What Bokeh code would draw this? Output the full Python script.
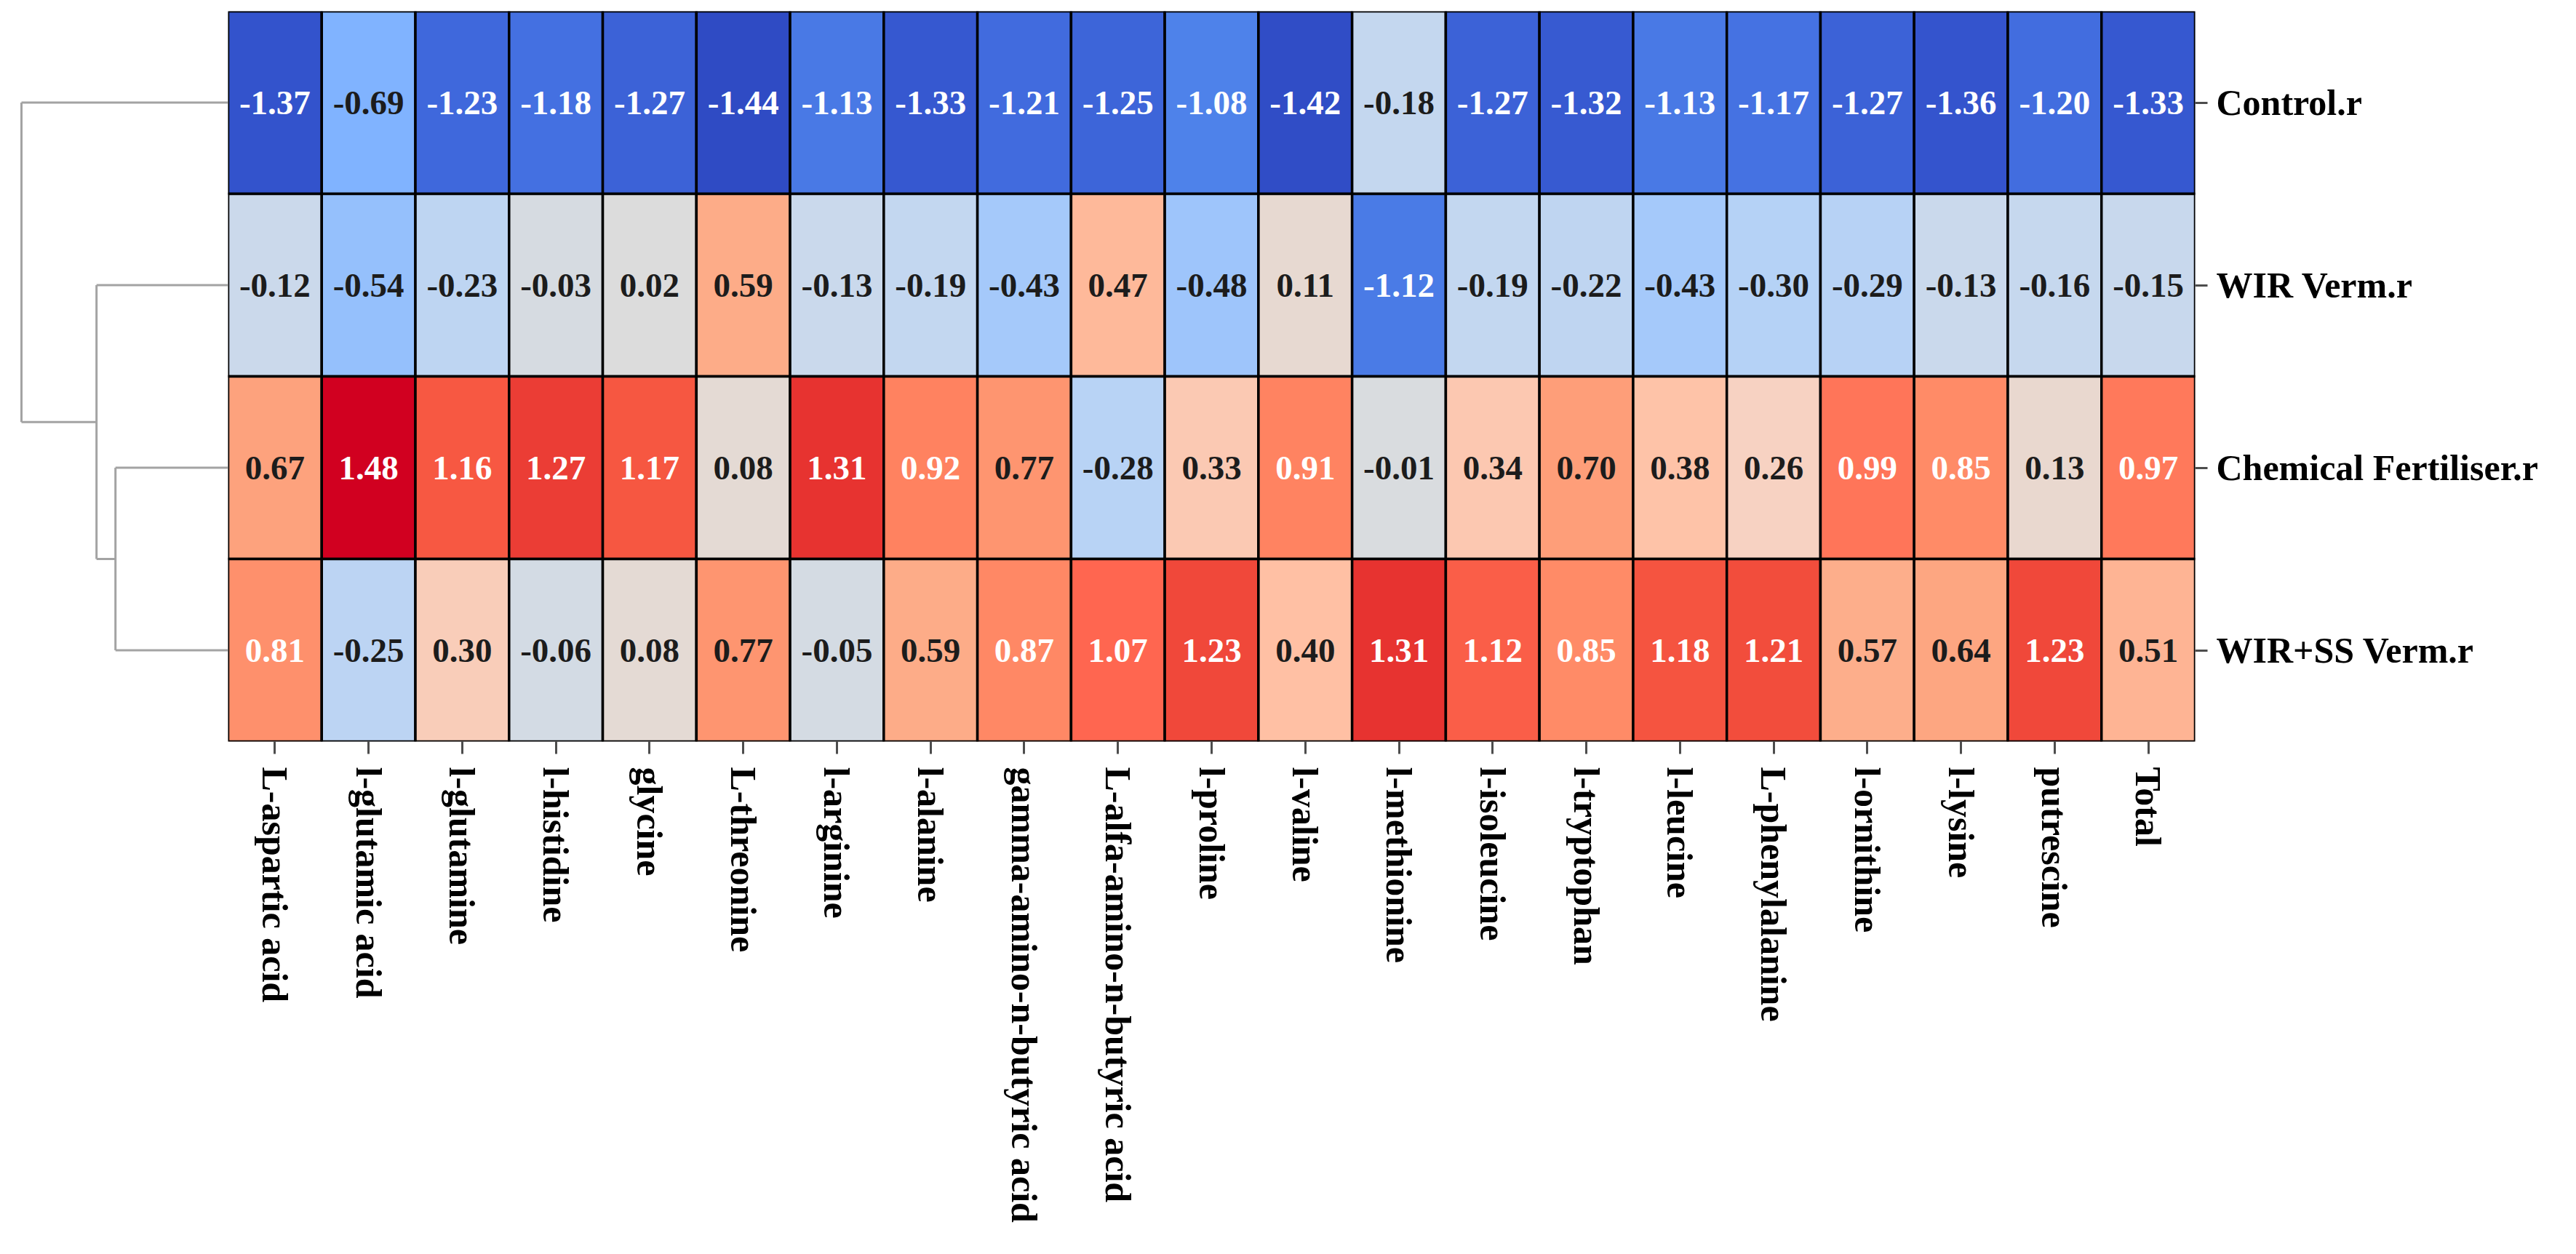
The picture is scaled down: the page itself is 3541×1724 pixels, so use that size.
import numpy as np
from bokeh.plotting import figure
from bokeh.models import ColumnDataSource, LinearColorMapper, FactorRange, Range1d
from bokeh.layouts import row
from bokeh.core.properties import value
from bokeh.embed import file_html
from bokeh.resources import INLINE

# ---------------- data ----------------
columns = ["L-aspartic acid", "l-glutamic acid", "l-glutamine", "l-histidine", "glycine",
           "L-threonine", "l-arginine", "l-alanine", "gamma-amino-n-butyric acid",
           "L-alfa-amino-n-butyric acid", "l-proline", "l-valine", "l-methionine",
           "l-isoleucine", "l-tryptophan", "l-leucine", "L-phenylalanine", "l-ornithine",
           "l-lysine", "putrescine", "Total"]
rows = ["Control.r", "WIR Verm.r", "Chemical Fertiliser.r", "WIR+SS Verm.r"]

control_r = [-1.37, -0.69, -1.23, -1.18, -1.27, -1.44, -1.13, -1.33, -1.21, -1.25, -1.08,
             -1.42, -0.18, -1.27, -1.32, -1.13, -1.17, -1.27, -1.36, -1.20, -1.33]
wir_verm_r = [-0.12, -0.54, -0.23, -0.03, 0.02, 0.59, -0.13, -0.19, -0.43, 0.47, -0.48,
              0.11, -1.12, -0.19, -0.22, -0.43, -0.30, -0.29, -0.13, -0.16, -0.15]
chem_fert_r = [0.67, 1.48, 1.16, 1.27, 1.17, 0.08, 1.31, 0.92, 0.77, -0.28, 0.33,
               0.91, -0.01, 0.34, 0.70, 0.38, 0.26, 0.99, 0.85, 0.13, 0.97]
wir_ss_verm_r = [0.81, -0.25, 0.30, -0.06, 0.08, 0.77, -0.05, 0.59, 0.87, 1.07, 1.23,
                 0.40, 1.31, 1.12, 0.85, 1.18, 1.21, 0.57, 0.64, 1.23, 0.51]
row_values = [control_r, wir_verm_r, chem_fert_r, wir_ss_verm_r]

# ---------------- colour palette (style) ----------------
anchors = [(-1.50, "#2a44bf"), (-1.44, "#2f4bc4"), (-1.33, "#3658d0"), (-1.20, "#426ddf"),
           (-1.08, "#4e82ea"), (-0.90, "#679bf6"), (-0.69, "#80b3ff"), (-0.54, "#95c0fc"),
           (-0.43, "#a5c9fa"), (-0.28, "#b8d3f5"), (-0.13, "#cad9ec"), (0.00, "#dadcde"),
           (0.08, "#e4dad4"), (0.26, "#f7d2c2"), (0.40, "#ffc0a4"), (0.59, "#fdac88"),
           (0.77, "#fe9570"), (0.92, "#ff8260"), (1.07, "#ff6650"), (1.17, "#f65741"),
           (1.31, "#e73330"), (1.48, "#d10020"), (1.50, "#cf001f")]
av = np.array([a[0] for a in anchors])
ac = np.array([[int(c[1][i:i + 2], 16) for i in (1, 3, 5)] for c in anchors], dtype=float)
grid = np.linspace(-1.5, 1.5, 301)
palette = []
for g in grid:
    rgb = [int(round(np.interp(g, av, ac[:, k]))) for k in range(3)]
    palette.append("#%02x%02x%02x" % tuple(rgb))
mapper = LinearColorMapper(palette=palette, low=-1.5, high=1.5)

# ---------------- heatmap source ----------------
xs, ys, vs, labels, tcolors = [], [], [], [], []
for r, vals in zip(rows, row_values):
    for c, v in zip(columns, vals):
        xs.append(c)
        ys.append(r)
        vs.append(v)
        labels.append("%.2f" % v)
        tcolors.append("#ffffff" if abs(v) >= 0.8 else "#1c1c1c")
src = ColumnDataSource(dict(x=xs, y=ys, v=vs, label=labels, tc=tcolors))

SERIF = "Liberation Serif"
H = 1705
TOP = 15
BOTTOM = 686
DEND_W = 313
HEAT_W = 3520 - DEND_W
RIGHT = 503

p = figure(width=HEAT_W, height=H, output_backend="svg", toolbar_location=None,
           x_range=FactorRange(*columns), y_range=FactorRange(*reversed(rows)),
           x_axis_location="below", y_axis_location="right",
           min_border_left=0, min_border_right=RIGHT, min_border_top=TOP,
           min_border_bottom=BOTTOM, tools="")
p.rect(x="x", y="y", width=1, height=1, source=src,
       fill_color={"field": "v", "transform": mapper},
       line_color="#000000", line_width=3.5)
p.text(x="x", y="y", text="label", source=src, text_color="tc",
       text_font=value(SERIF), text_font_style="bold", text_font_size="47px",
       text_align="center", text_baseline="middle")

p.grid.visible = False
p.outline_line_color = None
p.background_fill_color = "white"
p.border_fill_color = "white"
for ax in (p.xaxis[0], p.yaxis[0]):
    ax.axis_line_color = None
    ax.major_tick_line_color = "#4d4d4d"
    ax.major_tick_line_width = 3
    ax.major_tick_in = 0
    ax.major_tick_out = 17
    ax.minor_tick_line_color = None
    ax.major_label_text_font = SERIF
    ax.major_label_text_font_style = "bold"
    ax.major_label_text_font_size = "50px"
    ax.major_label_text_color = "#000000"
p.xaxis.major_label_orientation = "vertical"
p.xaxis.major_label_standoff = 18
p.yaxis.major_label_standoff = 12

# ---------------- dendrogram (average linkage, euclidean) ----------------
X = np.array(row_values)
n = len(rows)
D = np.sqrt(((X[:, None, :] - X[None, :, :]) ** 2).sum(-1))
clusters = {i: {"m": [i], "h": 0.0, "y": n - i - 0.5} for i in range(n)}
active = list(range(n))
nid = n
hx0, hx1, hy = [], [], []
vx, vy0, vy1 = [], [], []
while len(active) > 1:
    best = None
    for i in range(len(active)):
        for j in range(i + 1, len(active)):
            a, b = active[i], active[j]
            d = float(np.mean([D[s, t] for s in clusters[a]["m"] for t in clusters[b]["m"]]))
            if best is None or d < best[0]:
                best = (d, a, b)
    d, a, b = best
    ca, cb = clusters[a], clusters[b]
    for cc in (ca, cb):
        hx0.append(cc["h"]); hx1.append(d); hy.append(cc["y"])
    vx.append(d); vy0.append(ca["y"]); vy1.append(cb["y"])
    clusters[nid] = {"m": ca["m"] + cb["m"], "h": d, "y": (ca["y"] + cb["y"]) / 2}
    active = [k for k in active if k not in (a, b)] + [nid]
    nid += 1
root_h = clusters[active[0]]["h"]

dend = figure(width=DEND_W, height=H, output_backend="svg", toolbar_location=None,
              x_range=Range1d(root_h * DEND_W / 284.0, 0), y_range=Range1d(0, n),
              min_border_left=0, min_border_right=0, min_border_top=TOP,
              min_border_bottom=BOTTOM, tools="")
dend.segment(x0=hx0, y0=hy, x1=hx1, y1=hy, line_color="#a3a3a3", line_width=3)
dend.segment(x0=vx, y0=vy0, x1=vx, y1=vy1, line_color="#a3a3a3", line_width=3)
dend.axis.visible = False
dend.grid.visible = False
dend.outline_line_color = None
dend.background_fill_color = "white"
dend.border_fill_color = "white"

layout = row(dend, p)
open("out.html", "w").write(file_html(layout, INLINE))
